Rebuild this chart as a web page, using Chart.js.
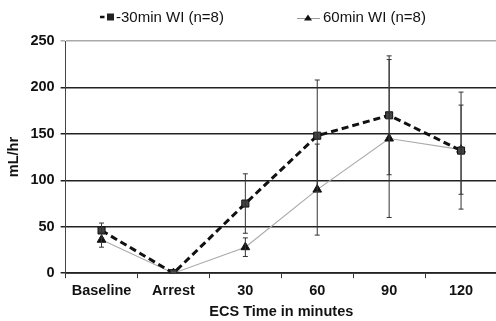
<!DOCTYPE html>
<html><head><meta charset="utf-8">
<script src="https://cdn.jsdelivr.net/npm/chart.js@4"></script>
<style>html,body{margin:0;padding:0;background:#fff;overflow:hidden}#wrap{width:496px;height:321px;overflow:hidden}</style>
</head><body><div id="wrap"><canvas id="c" width="503" height="326"></canvas></div>
<script>
const categories = ["Baseline", "Arrest", "30", "60", "90", "120"];
const wi30 = [46, 0, 75, 148, 170, 132];
const wi30Err = [8, 0, 32, 60, 64, 63];
const wi60 = [36, 0, 28, 90, 145, 133];
const wi60Err = [8, 0, 10, 49, 85, 48];
const yTicks = [0, 50, 100, 150, 200, 250];
const seriesLabels = ["-30min WI (n=8)", "60min WI (n=8)"];

const FONT = 'Liberation Sans, Arial, sans-serif';

const customLegend = {
  id: 'customLegend',
  afterDraw(chart) {
    const g = chart.ctx;
    g.save();
    g.font = '15px ' + FONT;
    g.fillStyle = '#111';
    g.textBaseline = 'middle';
    const y = 17;
    g.strokeStyle = '#111'; g.lineWidth = 2.5;
    g.beginPath(); g.moveTo(100, y); g.lineTo(104.5, y); g.stroke();
    g.fillStyle = '#222'; g.fillRect(107, y - 3.5, 7, 7);
    g.fillStyle = '#111';
    g.fillText(seriesLabels[0], 116, y + 0.5);
    g.strokeStyle = '#999'; g.lineWidth = 1;
    g.beginPath(); g.moveTo(297, y + 1.5); g.lineTo(320, y + 1.5); g.stroke();
    g.fillStyle = '#111';
    g.beginPath(); g.moveTo(308, y - 2.5); g.lineTo(312, y + 3.5); g.lineTo(304, y + 3.5); g.closePath(); g.fill();
    g.fillText(seriesLabels[1], 323, y + 0.5);
    g.restore();
  }
};

const errorBars = {
  id: 'errorBars',
  afterDatasetsDraw(chart) {
    const ctx = chart.ctx, y = chart.scales.y;
    chart.data.datasets.forEach((ds, i) => {
      const meta = chart.getDatasetMeta(i);
      const errs = ds.errors;
      meta.data.forEach((pt, j) => {
        const e = errs[j]; if (!e) return;
        const v = ds.data[j];
        const top = y.getPixelForValue(v + e), bot = y.getPixelForValue(v - e);
        ctx.save();
        ctx.strokeStyle = '#333'; ctx.lineWidth = 1;
        ctx.beginPath();
        ctx.moveTo(pt.x, top); ctx.lineTo(pt.x, bot);
        ctx.moveTo(pt.x - 2.5, top); ctx.lineTo(pt.x + 2.5, top);
        ctx.moveTo(pt.x - 2.5, bot); ctx.lineTo(pt.x + 2.5, bot);
        ctx.stroke(); ctx.restore();
      });
    });
  }
};

new Chart(document.getElementById('c'), {
  type: 'line',
  data: {
    labels: categories,
    datasets: [
      { label: seriesLabels[0], data: wi30, errors: wi30Err, borderColor: '#111', borderWidth: 3,
        borderDash: [7, 4], pointStyle: 'rect', pointRadius: 5, pointBackgroundColor: '#444',
        pointBorderColor: '#111', pointBorderWidth: 1, tension: 0 },
      { label: seriesLabels[1], data: wi60, errors: wi60Err, borderColor: '#aaa', borderWidth: 1.2,
        pointStyle: 'triangle', pointRadius: 5, pointBackgroundColor: '#111',
        pointBorderColor: '#111', pointBorderWidth: 1, tension: 0 }
    ]
  },
  options: {
    responsive: false, animation: false, devicePixelRatio: 1,
    layout: { padding: { left: 3, right: 0, top: 41, bottom: 4 } },
    plugins: { tooltip: { enabled: false }, legend: { display: false } },
    scales: {
      x: { offset: true,
        grid: { offset: true, drawOnChartArea: false, drawTicks: true, tickLength: 5, color: '#333' },
        border: { color: '#444' },
        ticks: { color: '#111', font: { family: FONT, size: 14.5, weight: 'bold' }, padding: 4 },
        title: { display: true, text: 'ECS Time in minutes', color: '#111', padding: { top: 0, bottom: 1 },
          font: { family: FONT, size: 14.5, weight: 'bold' } } },
      y: { min: 0, max: 250,
        afterBuildTicks: s => { s.ticks = yTicks.map(v => ({ value: v })); },
        grid: { color: (c) => c.tick && c.tick.value === 250 ? '#aaa' : '#222', lineWidth: 1.5, tickLength: 5 },
        border: { color: '#444' },
        ticks: { color: '#111', font: { family: FONT, size: 14.5, weight: 'bold' }, padding: 6 },
        title: { display: true, text: 'mL/hr', color: '#111', padding: 2,
          font: { family: FONT, size: 14.5, weight: 'bold' } } }
    }
  },
  plugins: [errorBars, customLegend]
});
</script></body></html>
